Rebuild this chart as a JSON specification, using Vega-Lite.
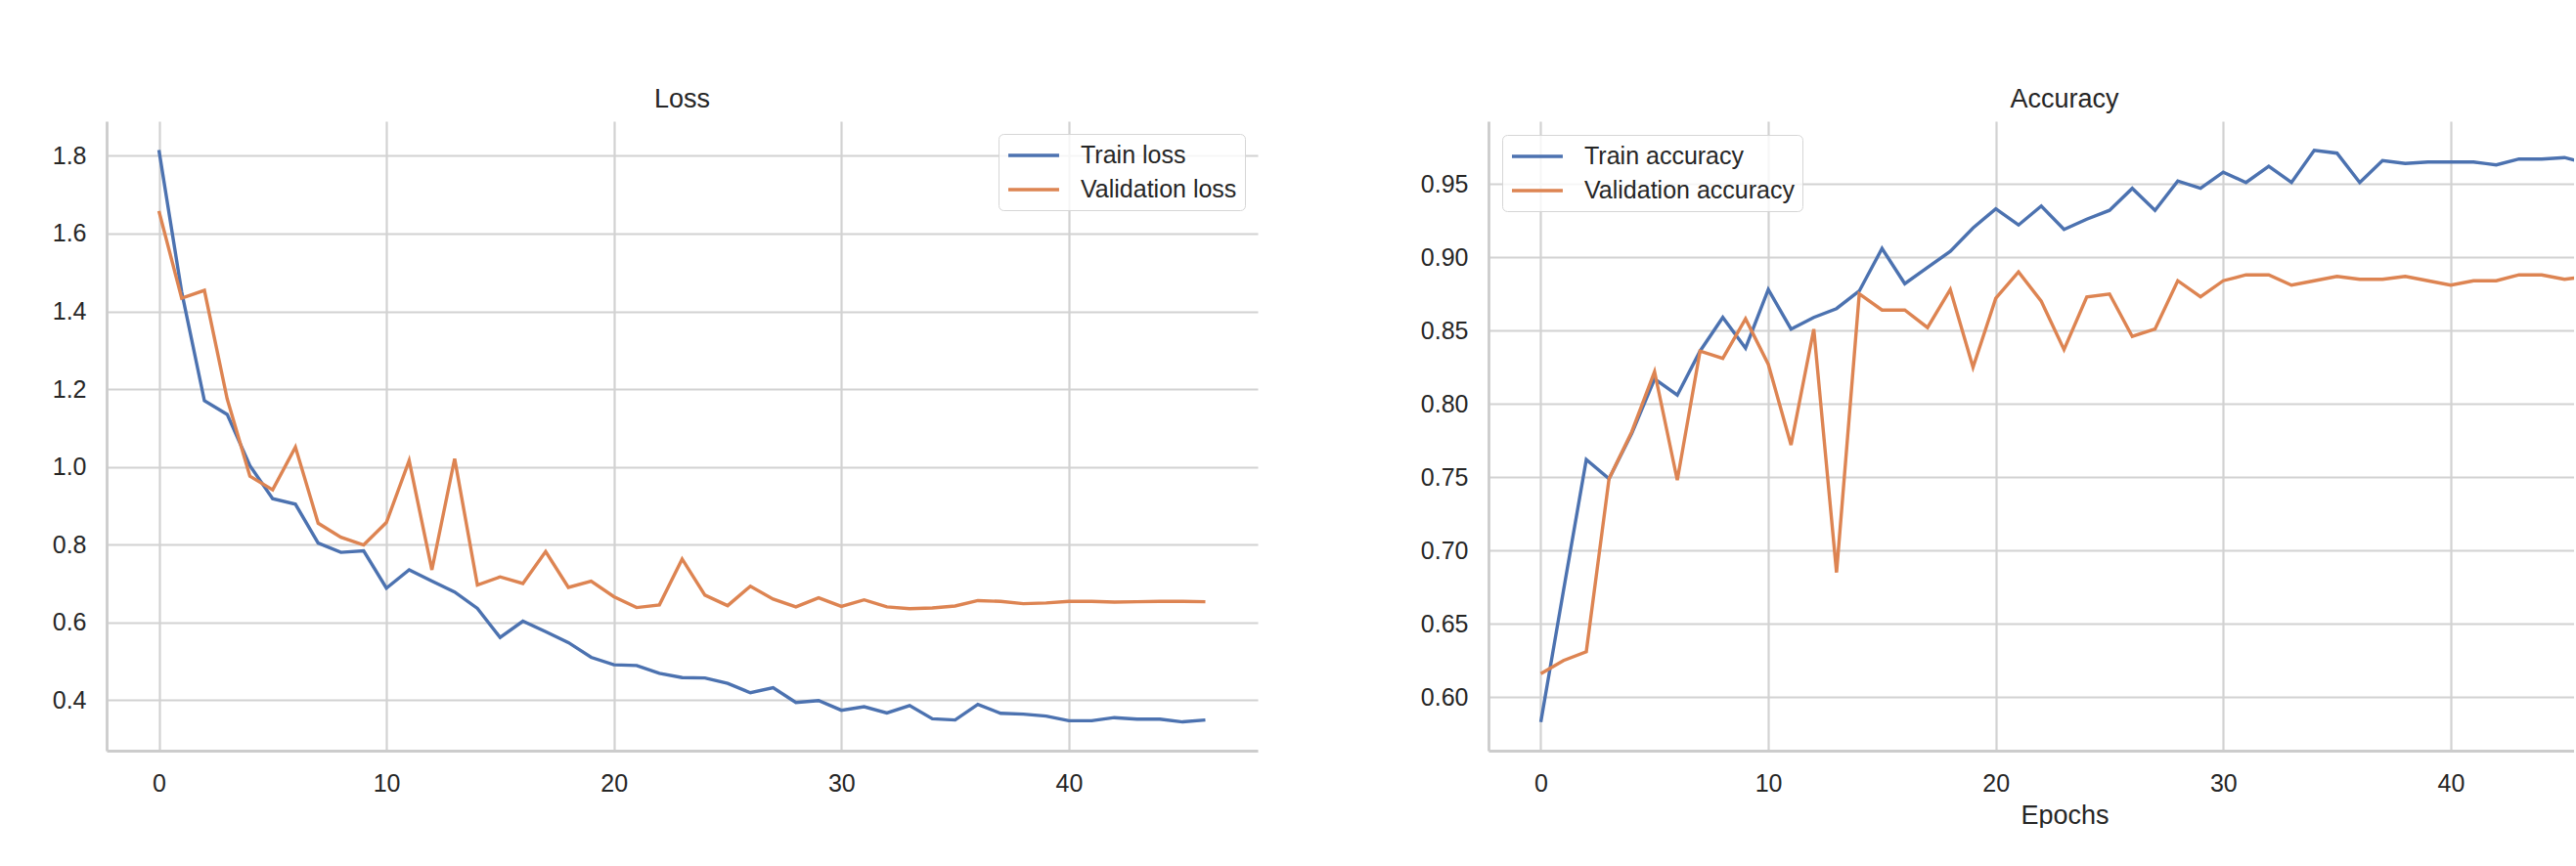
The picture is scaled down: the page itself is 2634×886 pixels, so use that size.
{
  "$schema": "https://vega.github.io/schema/vega-lite/v6.json",
  "background": "white",
  "padding": {"left": 53, "top": 88, "right": 0, "bottom": 0},
  "datasets": {
    "history": [
      {"epoch": 0, "Train loss": 1.815, "Validation loss": 1.658, "Train accuracy": 0.583, "Validation accuracy": 0.616},
      {"epoch": 1, "Train loss": 1.45, "Validation loss": 1.434, "Train accuracy": 0.673, "Validation accuracy": 0.625},
      {"epoch": 2, "Train loss": 1.170, "Validation loss": 1.454, "Train accuracy": 0.762, "Validation accuracy": 0.631},
      {"epoch": 3, "Train loss": 1.135, "Validation loss": 1.175, "Train accuracy": 0.749, "Validation accuracy": 0.749},
      {"epoch": 4, "Train loss": 1.003, "Validation loss": 0.976, "Train accuracy": 0.780, "Validation accuracy": 0.781},
      {"epoch": 5, "Train loss": 0.918, "Validation loss": 0.941, "Train accuracy": 0.817, "Validation accuracy": 0.822},
      {"epoch": 6, "Train loss": 0.904, "Validation loss": 1.051, "Train accuracy": 0.806, "Validation accuracy": 0.748},
      {"epoch": 7, "Train loss": 0.804, "Validation loss": 0.855, "Train accuracy": 0.836, "Validation accuracy": 0.836},
      {"epoch": 8, "Train loss": 0.780, "Validation loss": 0.819, "Train accuracy": 0.859, "Validation accuracy": 0.831},
      {"epoch": 9, "Train loss": 0.784, "Validation loss": 0.799, "Train accuracy": 0.838, "Validation accuracy": 0.858},
      {"epoch": 10, "Train loss": 0.688, "Validation loss": 0.857, "Train accuracy": 0.878, "Validation accuracy": 0.827},
      {"epoch": 11, "Train loss": 0.735, "Validation loss": 1.016, "Train accuracy": 0.851, "Validation accuracy": 0.772},
      {"epoch": 12, "Train loss": 0.706, "Validation loss": 0.735, "Train accuracy": 0.859, "Validation accuracy": 0.851},
      {"epoch": 13, "Train loss": 0.678, "Validation loss": 1.021, "Train accuracy": 0.865, "Validation accuracy": 0.685},
      {"epoch": 14, "Train loss": 0.636, "Validation loss": 0.696, "Train accuracy": 0.877, "Validation accuracy": 0.875},
      {"epoch": 15, "Train loss": 0.561, "Validation loss": 0.717, "Train accuracy": 0.906, "Validation accuracy": 0.864},
      {"epoch": 16, "Train loss": 0.603, "Validation loss": 0.700, "Train accuracy": 0.882, "Validation accuracy": 0.864},
      {"epoch": 17, "Train loss": 0.576, "Validation loss": 0.782, "Train accuracy": 0.893, "Validation accuracy": 0.852},
      {"epoch": 18, "Train loss": 0.548, "Validation loss": 0.690, "Train accuracy": 0.904, "Validation accuracy": 0.878},
      {"epoch": 19, "Train loss": 0.510, "Validation loss": 0.706, "Train accuracy": 0.920, "Validation accuracy": 0.825},
      {"epoch": 20, "Train loss": 0.491, "Validation loss": 0.666, "Train accuracy": 0.933, "Validation accuracy": 0.872},
      {"epoch": 21, "Train loss": 0.489, "Validation loss": 0.638, "Train accuracy": 0.922, "Validation accuracy": 0.890},
      {"epoch": 22, "Train loss": 0.469, "Validation loss": 0.645, "Train accuracy": 0.935, "Validation accuracy": 0.870},
      {"epoch": 23, "Train loss": 0.458, "Validation loss": 0.763, "Train accuracy": 0.919, "Validation accuracy": 0.837},
      {"epoch": 24, "Train loss": 0.457, "Validation loss": 0.670, "Train accuracy": 0.926, "Validation accuracy": 0.873},
      {"epoch": 25, "Train loss": 0.443, "Validation loss": 0.643, "Train accuracy": 0.932, "Validation accuracy": 0.875},
      {"epoch": 26, "Train loss": 0.419, "Validation loss": 0.693, "Train accuracy": 0.947, "Validation accuracy": 0.846},
      {"epoch": 27, "Train loss": 0.432, "Validation loss": 0.660, "Train accuracy": 0.932, "Validation accuracy": 0.851},
      {"epoch": 28, "Train loss": 0.394, "Validation loss": 0.640, "Train accuracy": 0.952, "Validation accuracy": 0.884},
      {"epoch": 29, "Train loss": 0.399, "Validation loss": 0.663, "Train accuracy": 0.947, "Validation accuracy": 0.873},
      {"epoch": 30, "Train loss": 0.374, "Validation loss": 0.641, "Train accuracy": 0.958, "Validation accuracy": 0.884},
      {"epoch": 31, "Train loss": 0.383, "Validation loss": 0.658, "Train accuracy": 0.951, "Validation accuracy": 0.888},
      {"epoch": 32, "Train loss": 0.367, "Validation loss": 0.640, "Train accuracy": 0.962, "Validation accuracy": 0.888},
      {"epoch": 33, "Train loss": 0.386, "Validation loss": 0.635, "Train accuracy": 0.951, "Validation accuracy": 0.881},
      {"epoch": 34, "Train loss": 0.352, "Validation loss": 0.637, "Train accuracy": 0.973, "Validation accuracy": 0.884},
      {"epoch": 35, "Train loss": 0.349, "Validation loss": 0.642, "Train accuracy": 0.971, "Validation accuracy": 0.887},
      {"epoch": 36, "Train loss": 0.389, "Validation loss": 0.656, "Train accuracy": 0.951, "Validation accuracy": 0.885},
      {"epoch": 37, "Train loss": 0.366, "Validation loss": 0.654, "Train accuracy": 0.966, "Validation accuracy": 0.885},
      {"epoch": 38, "Train loss": 0.364, "Validation loss": 0.648, "Train accuracy": 0.964, "Validation accuracy": 0.887},
      {"epoch": 39, "Train loss": 0.359, "Validation loss": 0.650, "Train accuracy": 0.965, "Validation accuracy": 0.884},
      {"epoch": 40, "Train loss": 0.347, "Validation loss": 0.654, "Train accuracy": 0.965, "Validation accuracy": 0.881},
      {"epoch": 41, "Train loss": 0.347, "Validation loss": 0.654, "Train accuracy": 0.965, "Validation accuracy": 0.884},
      {"epoch": 42, "Train loss": 0.355, "Validation loss": 0.652, "Train accuracy": 0.963, "Validation accuracy": 0.884},
      {"epoch": 43, "Train loss": 0.351, "Validation loss": 0.653, "Train accuracy": 0.967, "Validation accuracy": 0.888},
      {"epoch": 44, "Train loss": 0.351, "Validation loss": 0.654, "Train accuracy": 0.967, "Validation accuracy": 0.888},
      {"epoch": 45, "Train loss": 0.344, "Validation loss": 0.654, "Train accuracy": 0.968, "Validation accuracy": 0.885},
      {"epoch": 46, "Train loss": 0.349, "Validation loss": 0.653, "Train accuracy": 0.964, "Validation accuracy": 0.887}
    ]
  },
  "data": {"name": "history"},
  "spacing": 236,
  "bounds": "flush",
  "resolve": {
    "scale": {"color": "independent", "x": "independent", "y": "independent"},
    "legend": {"color": "independent"}
  },
  "hconcat": [
    {
      "width": 1177,
      "height": 644,
      "title": {"text": "Loss", "offset": 8},
      "transform": [{"fold": ["Train loss", "Validation loss"], "as": ["series", "value"]}],
      "mark": {"type": "line", "strokeWidth": 3.4},
      "encoding": {
        "x": {
          "field": "epoch", "type": "quantitative",
          "scale": {"domain": [-2.3, 48.3], "nice": false, "zero": false},
          "axis": {"values": [0, 10, 20, 30, 40], "format": "d", "title": null}
        },
        "y": {
          "field": "value", "type": "quantitative",
          "scale": {"domain": [0.27, 1.889], "nice": false, "zero": false},
          "axis": {"values": [0.4, 0.6, 0.8, 1.0, 1.2, 1.4, 1.6, 1.8], "format": ".1f", "title": null}
        },
        "color": {
          "field": "series", "type": "nominal",
          "scale": {"domain": ["Train loss", "Validation loss"], "range": ["#4C72B0", "#DD8452"]},
          "legend": {"orient": "top-right", "offset": 13}
        }
      }
    },
    {
      "width": 1110,
      "height": 644,
      "title": {"text": "Accuracy", "offset": 8, "dx": 34},
      "transform": [{"fold": ["Train accuracy", "Validation accuracy"], "as": ["series", "value"]}],
      "mark": {"type": "line", "strokeWidth": 3.4, "clip": true},
      "encoding": {
        "x": {
          "field": "epoch", "type": "quantitative",
          "scale": {"domain": [-2.3, 45.42], "nice": false, "zero": false},
          "axis": {"values": [0, 10, 20, 30, 40], "format": "d", "title": "Epochs", "titleX": 589, "titleAlign": "center", "titlePadding": 7}
        },
        "y": {
          "field": "value", "type": "quantitative",
          "scale": {"domain": [0.5635, 0.9928], "nice": false, "zero": false},
          "axis": {"values": [0.60, 0.65, 0.70, 0.75, 0.80, 0.85, 0.90, 0.95], "format": ".2f", "title": null}
        },
        "color": {
          "field": "series", "type": "nominal",
          "scale": {"domain": ["Train accuracy", "Validation accuracy"], "range": ["#4C72B0", "#DD8452"]},
          "legend": {"orient": "top-left", "offset": 14}
        }
      }
    }
  ],
  "config": {
    "font": "Liberation Sans",
    "view": {"stroke": null},
    "title": {"fontSize": 27, "fontWeight": "normal", "color": "#262626", "font": "Liberation Sans", "anchor": "middle"},
    "axis": {
      "labelFont": "Liberation Sans",
      "labelFontSize": 25,
      "labelColor": "#262626",
      "ticks": false,
      "tickSize": 0,
      "labelPadding": 21,
      "domainColor": "#cccccc",
      "domainWidth": 2.8,
      "grid": true,
      "gridColor": "#d2d2d2",
      "gridWidth": 2.2,
      "labelFlush": false,
      "labelOverlap": false,
      "titleFont": "Liberation Sans",
      "titleFontSize": 27,
      "titleFontWeight": "normal",
      "titleColor": "#262626"
    },
    "legend": {
      "title": null,
      "symbolType": "M-1,0H3.33",
      "symbolStrokeWidth": 3.4,
      "symbolSize": 576,
      "labelFont": "Liberation Sans",
      "labelFontSize": 25,
      "labelColor": "#262626",
      "labelOffset": 48,
      "padding": 8,
      "rowPadding": 8,
      "strokeColor": "#d6d6d6",
      "fillColor": "rgba(255,255,255,0.8)",
      "cornerRadius": 5,
      "labelLimit": 400
    }
  }
}
